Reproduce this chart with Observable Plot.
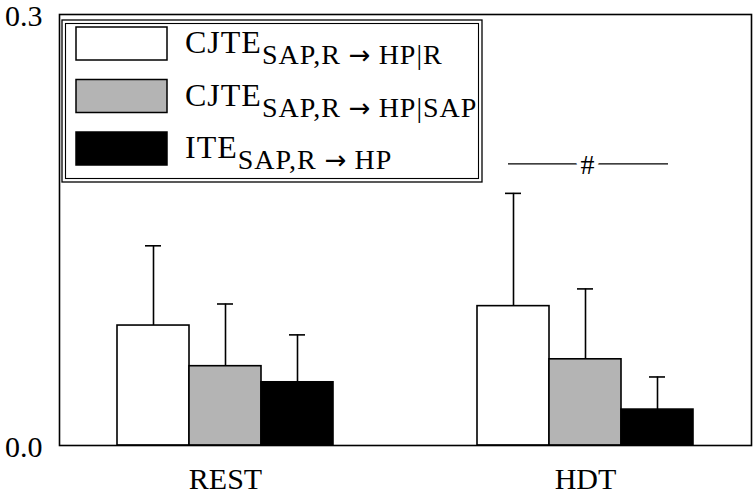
<!DOCTYPE html>
<html><head><meta charset="utf-8">
<script src="https://cdn.jsdelivr.net/npm/d3@7"></script>
<script src="https://cdn.jsdelivr.net/npm/@observablehq/plot@0.6"></script>
<style>body{margin:0;background:#fff}</style>
</head><body><div id="chart"></div>
<script>
const groups = ["REST", "HDT"];
const seriesKeys = ["CJTE_R", "CJTE_SAP", "ITE"];
const seriesFills = ["#ffffff", "#b4b4b4", "#000000"];
const legendMain = ["CJTE", "CJTE", "ITE"];
const legendSub = ["SAP,R \u2192 HP|R", "SAP,R \u2192 HP|SAP", "SAP,R \u2192 HP"];
const meanREST = [0.0835, 0.0552, 0.0440];
const meanHDT = [0.0970, 0.0600, 0.0250];
const errREST = [0.0555, 0.0433, 0.0330];
const errHDT = [0.0785, 0.0490, 0.0227];
const yTicks = [0, 0.3];
const sigGroup = "HDT";
const sigY = 0.196;
const sigLabel = "#";

const FONT = "'Liberation Serif', 'Times New Roman', serif";
const means = {REST: meanREST, HDT: meanHDT};
const errs = {REST: errREST, HDT: errHDT};

const data = [];
groups.forEach(g => seriesKeys.forEach((s, i) => {
  data.push({key: g + "|" + s, group: g, fill: seriesFills[i], mean: means[g][i], top: means[g][i] + errs[g][i]});
}));
// x domain: bars of each group, with two empty spacer bands between groups
const xDomain = [];
groups.forEach((g, gi) => {
  if (gi > 0) xDomain.push("\u00b7gap1", "\u00b7gap2");
  seriesKeys.forEach(s => xDomain.push(g + "|" + s));
});
const groupTicks = groups.map(g => g + "|" + seriesKeys[1]);

const chart = Plot.plot({
  width: 756, height: 496,
  marginLeft: 59, marginRight: 5, marginTop: 14, marginBottom: 51,
  style: {fontFamily: FONT, background: "#fff", color: "#000"},
  x: {type: "band", domain: xDomain, paddingInner: 0, paddingOuter: 0.75, axis: null},
  y: {domain: [0, 0.3], axis: null},
  color: {type: "identity"},
  marks: [
    Plot.axisY({ticks: yTicks, tickFormat: d3.format(".1f"), tickSize: 0, tickPadding: 17, dy: 2, fontSize: 30, fontFamily: FONT}),
    Plot.axisX({ticks: groupTicks, tickFormat: k => k.split("|")[0], tickSize: 0, tickPadding: 22, fontSize: 30, fontFamily: FONT}),
    Plot.ruleX(data, {x: "key", y1: "mean", y2: "top", stroke: "#000", strokeWidth: 1.6}),
    Plot.tickY(data, {x: "key", y: "top", insetLeft: 28, insetRight: 28, stroke: "#000", strokeWidth: 1.6}),
    Plot.barY(data, {x: "key", y: "mean", fill: "fill", stroke: "#000", strokeWidth: 1.6}),
    Plot.ruleY([{y: sigY, x1: sigGroup + "|" + seriesKeys[0], x2: sigGroup + "|" + seriesKeys[2]}], {y: "y", x1: "x1", x2: "x2", insetLeft: 31, insetRight: 25, stroke: "#000", strokeWidth: 1.4}),
    Plot.text([{y: sigY, x: sigGroup + "|" + seriesKeys[1]}], {x: "x", y: "y", dx: 2, dy: 1, text: () => sigLabel, fontSize: 28, fontFamily: FONT, fill: "#000", stroke: "#fff", strokeWidth: 9}),
    Plot.frame({stroke: "#000", strokeWidth: 1.6})
  ]
});
document.getElementById("chart").appendChild(chart);

// in-plot legend
const svg = d3.select(chart);
const lg = svg.append("g").attr("font-family", FONT).attr("text-anchor", "start");
lg.append("rect").attr("x", 62).attr("y", 20).attr("width", 420).attr("height", 162)
  .attr("fill", "#fff").attr("stroke", "#000").attr("stroke-width", 1.3);
lg.append("rect").attr("x", 65.5).attr("y", 23.5).attr("width", 413).attr("height", 155)
  .attr("fill", "none").attr("stroke", "#000").attr("stroke-width", 1.1);
seriesKeys.forEach((s, i) => {
  const y0 = 27 + i * 52.5;
  lg.append("rect").attr("x", 76).attr("y", y0).attr("width", 91).attr("height", 33)
    .attr("fill", seriesFills[i]).attr("stroke", "#000").attr("stroke-width", 1.5);
  const t = lg.append("text").attr("x", 185).attr("y", y0 + 26).attr("font-size", 32)
    .attr("fill", "#000").attr("text-anchor", "start");
  t.append("tspan").attr("letter-spacing", 1).text(legendMain[i]);
  const [pre, post] = legendSub[i].split("\u2192");
  t.append("tspan").attr("dy", 11).attr("font-size", 28).attr("letter-spacing", 1).text(pre);
  t.append("tspan").attr("font-size", 26).attr("font-family", "'DejaVu Sans', sans-serif").text("\u2192");
  t.append("tspan").attr("font-size", 28).attr("letter-spacing", 1).text(post);
});
</script>
</body></html>
